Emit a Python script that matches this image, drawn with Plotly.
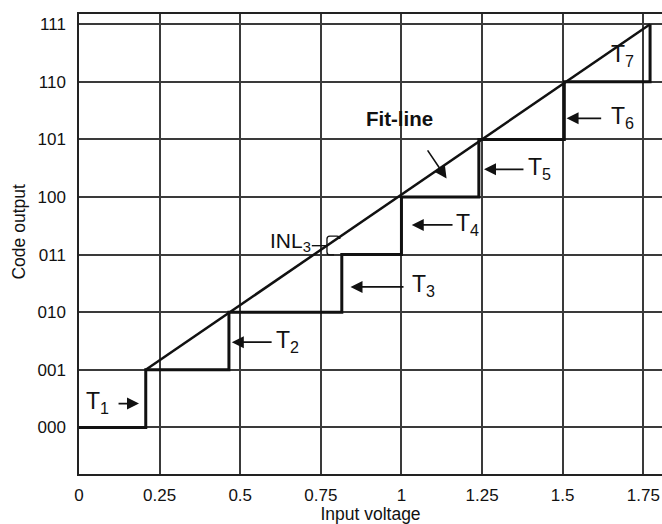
import plotly.graph_objects as go

# Output codes of the 3-bit converter
codes = ["000", "001", "010", "011", "100", "101", "110", "111"]
code_levels = [0, 1, 2, 3, 4, 5, 6, 7]

# Transition voltages T1..T7 (V)
transitions = [0.207, 0.465, 0.815, 1.0, 1.24, 1.505, 1.771]

# Input-voltage axis ticks
volt_ticks = [0, 0.25, 0.5, 0.75, 1.0, 1.25, 1.5, 1.75]
volt_labels = ["0", "0.25", "0.5", "0.75", "1", "1.25", "1.5", "1.75"]

FONT = "Liberation Sans, Arial, sans-serif"
GRID = "#3a3a3a"

# Staircase transfer curve: flat at each code, vertical jump at each transition
stair_x = [0.0]
stair_y = [code_levels[0]]
for i, t in enumerate(transitions):
    stair_x += [t, t]
    stair_y += [code_levels[i], code_levels[i + 1]]

# Fit line through the first and last transition corners
fit_x = [transitions[0], transitions[-1]]
fit_y = [code_levels[1], code_levels[-1]]

fig = go.Figure()
fig.add_trace(go.Scatter(x=fit_x, y=fit_y, mode="lines",
                         line=dict(color="#111", width=2.5), hoverinfo="skip"))
fig.add_trace(go.Scatter(x=stair_x, y=stair_y, mode="lines",
                         line=dict(color="#111", width=3), hoverinfo="skip"))

annotations = []

# Transition labels: (text x, text y, arrow head x, arrow tail x, arrow y)
t_labels = [
    (0.057, 0.43, 0.186, 0.118, 0.413),
    (0.648, 1.497, 0.474, 0.602, 1.48),
    (1.067, 2.46, 0.842, 1.011, 2.439),
    (1.206, 3.528, 1.032, 1.163, 3.516),
    (1.429, 4.492, 1.256, 1.383, 4.48),
    (1.687, 5.387, 1.512, 1.624, 5.365),
    (1.684, 6.454, None, None, None),
]
for k, (tx, ty, hx, tlx, ay) in enumerate(t_labels, start=1):
    annotations.append(dict(x=tx, y=ty, xref="x", yref="y", showarrow=False,
                            text=f"T<sub>{k}</sub>", xanchor="center", yanchor="middle",
                            font=dict(family=FONT, size=23, color="#111")))
    if hx is not None:
        annotations.append(dict(x=hx, y=ay, ax=tlx, ay=ay, xref="x", yref="y",
                                axref="x", ayref="y", text="", showarrow=True,
                                arrowhead=2, arrowsize=1.5, arrowwidth=1.6,
                                arrowcolor="#111"))

# Fit-line label with its pointer
annotations.append(dict(x=0.995, y=5.37, xref="x", yref="y", showarrow=False,
                        text="<b>Fit-line</b>", font=dict(family=FONT, size=20.5, color="#111")))
annotations.append(dict(x=1.140, y=4.32, ax=1.078, ay=4.836, xref="x", yref="y",
                        axref="x", ayref="y", text="", showarrow=True,
                        arrowhead=2, arrowsize=1.5, arrowwidth=1.6, arrowcolor="#111"))

# INL3 label
annotations.append(dict(x=0.657, y=3.219, xref="x", yref="y", showarrow=False,
                        text="INL<sub>3</sub>", xanchor="center",
                        font=dict(family=FONT, size=21, color="#111")))

# Vertical axis title
annotations.append(dict(x=-0.103, y=0.527, xref="paper", yref="paper", showarrow=False,
                        text="Code output", textangle=-90,
                        xanchor="center", yanchor="middle",
                        font=dict(family=FONT, size=17.5, color="#111")))

shapes = [
    # leader from the INL3 label to its bracket
    dict(type="line", xref="x", yref="y", x0=0.722, x1=0.766, y0=3.155, y1=3.155,
         line=dict(color="#111", width=1.4)),
    # bracket spanning the gap between code 011 and the fit line
    dict(type="path", xref="x", yref="y",
         path="M 0.809 3.27 Q 0.809 3.322 0.800 3.322 L 0.778 3.322 "
              "Q 0.769 3.322 0.769 3.27 L 0.769 3.046 Q 0.769 2.995 0.778 2.995 L 0.791 2.995",
         line=dict(color="#111", width=1.3)),
]

fig.update_layout(
    width=662, height=524,
    margin=dict(l=79, r=0, t=14, b=46),
    paper_bgcolor="white", plot_bgcolor="white",
    showlegend=False,
    font=dict(family=FONT, color="#111"),
    annotations=annotations,
    shapes=shapes,
)
fig.update_xaxes(
    range=[0, 1.808], tickvals=volt_ticks, ticktext=volt_labels,
    showgrid=True, gridcolor=GRID, gridwidth=1.5,
    showline=True, linecolor="#222", linewidth=1.5, mirror=True,
    ticks="", ticklabelstandoff=5, zeroline=False,
    tickfont=dict(family=FONT, size=17, color="#111"),
    title=dict(text="Input voltage", standoff=7, font=dict(family=FONT, size=17.5, color="#111")),
)
fig.update_yaxes(
    range=[-0.809, 7.177], tickvals=code_levels, ticktext=codes,
    showgrid=True, gridcolor=GRID, gridwidth=1.5,
    showline=True, linecolor="#222", linewidth=1.5, mirror=False,
    ticks="", ticklabelstandoff=8, zeroline=False,
    tickfont=dict(family=FONT, size=17, color="#111"),
)

fig.write_html("out.html")
